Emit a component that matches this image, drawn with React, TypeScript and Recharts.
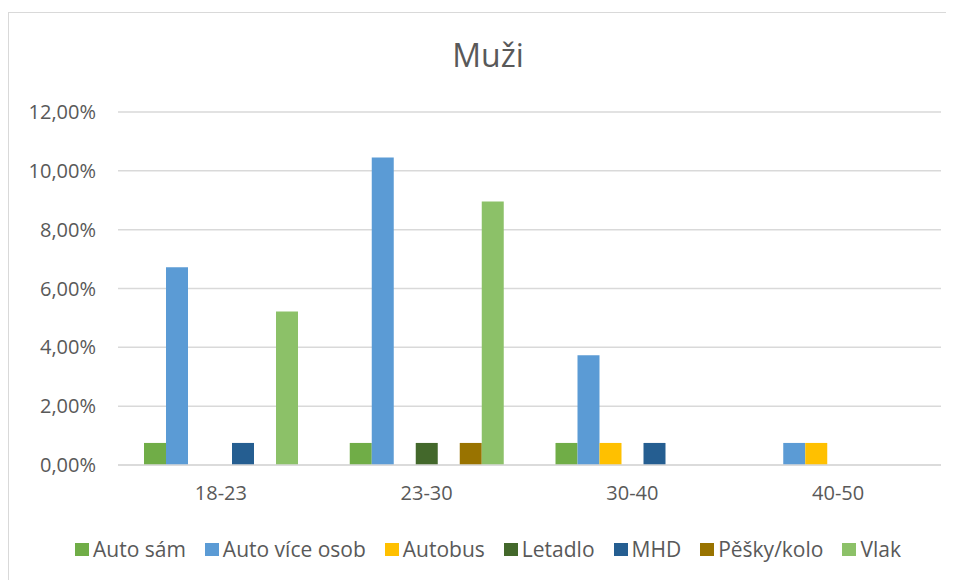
import { BarChart, Bar, XAxis, YAxis, CartesianGrid, Legend } from "recharts";

const categories = ["18-23", "23-30", "30-40", "40-50"];

// values in percent
const autoSam = [0.75, 0.75, 0.75, 0];
const autoViceOsob = [6.72, 10.45, 3.73, 0.75];
const autobus = [0, 0, 0.75, 0.75];
const letadlo = [0, 0.75, 0, 0];
const mhd = [0.75, 0, 0.75, 0];
const peskyKolo = [0, 0.75, 0, 0];
const vlak = [5.22, 8.96, 0, 0];

const yTicks = [0, 2, 4, 6, 8, 10, 12];

const SERIES = [
  { key: "autoSam", name: "Auto sám", values: autoSam, color: "#70ad47" },
  { key: "autoViceOsob", name: "Auto více osob", values: autoViceOsob, color: "#5b9bd5" },
  { key: "autobus", name: "Autobus", values: autobus, color: "#ffc000" },
  { key: "letadlo", name: "Letadlo", values: letadlo, color: "#43682b" },
  { key: "mhd", name: "MHD", values: mhd, color: "#255e91" },
  { key: "peskyKolo", name: "Pěšky/kolo", values: peskyKolo, color: "#997300" },
  { key: "vlak", name: "Vlak", values: vlak, color: "#8cc168" },
];

const data = categories.map((cat, i) => {
  const row: Record<string, string | number> = { cat };
  for (const s of SERIES) row[s.key] = s.values[i];
  return row;
});

const FONT = "'Open Sans', sans-serif";
const TEXT = "#595959";
const GRID = "#d9d9d9";

const fmtPct = (v: number) => v.toFixed(2).replace(".", ",") + "%";

/** Excel-like legend: small squares, wide spacing. */
function LegendRow() {
  return (
    <div
      style={{
        display: "flex",
        height: 24,
        lineHeight: "24px",
        paddingLeft: 66,
        fontSize: 21,
        fontFamily: FONT,
        color: TEXT,
        whiteSpace: "nowrap",
      }}
    >
      {SERIES.map((s) => (
        <div key={s.key} style={{ display: "flex", alignItems: "center", marginRight: 19 }}>
          <span
            style={{ width: 14, height: 13, background: s.color, marginRight: 4, display: "inline-block" }}
          />
          <span>{s.name}</span>
        </div>
      ))}
    </div>
  );
}

export default function App() {
  return (
    <div
      style={{
        marginTop: 4,
        width: 945,
        height: 567,
        borderTop: `1px solid ${GRID}`,
        borderLeft: `1px solid ${GRID}`,
        background: "#fff",
        position: "relative",
        fontFamily: FONT,
      }}
    >
      <BarChart
        width={945}
        height={567}
        data={data}
        margin={{ top: 99, right: 13, left: 0, bottom: 19 }}
        barCategoryGap={26}
        barGap={0}
      >
        <text
          x={479}
          y={54}
          textAnchor="middle"
          fontSize={32}
          fill={TEXT}
          fontFamily={FONT}
        >
          Muži
        </text>
        <CartesianGrid vertical={false} stroke={GRID} strokeWidth={1.5} />
        <XAxis
          dataKey="cat"
          height={72}
          tickLine={false}
          axisLine={{ stroke: GRID, strokeWidth: 1.5 }}
          tickMargin={15}
          tick={{ fill: TEXT, fontSize: 20, fontFamily: FONT }}
        />
        <YAxis
          width={109}
          domain={[0, 12]}
          ticks={yTicks}
          interval={0}
          tickFormatter={fmtPct}
          axisLine={false}
          tickLine={false}
          tickMargin={16}
          tick={{ fill: TEXT, fontSize: 20, fontFamily: FONT }}
        />
        <Legend verticalAlign="bottom" content={() => <LegendRow />} />
        {SERIES.map((s) => (
          <Bar
            key={s.key}
            dataKey={s.key}
            name={s.name}
            fill={s.color}
            isAnimationActive={false}
          />
        ))}
      </BarChart>
    </div>
  );
}
